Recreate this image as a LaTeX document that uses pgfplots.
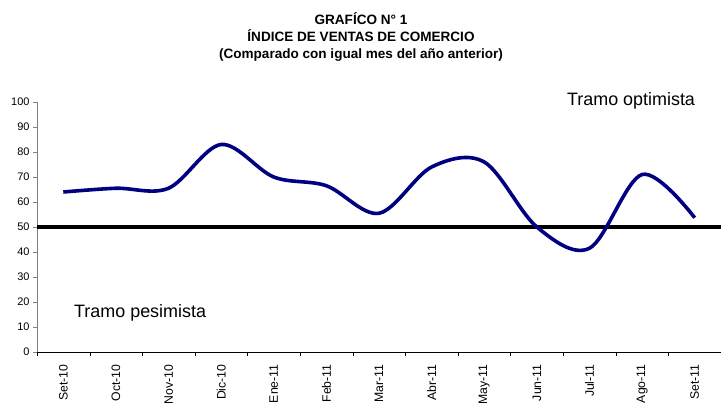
\documentclass[border=0pt]{standalone}
\usepackage{fontspec}
\setmainfont{Liberation Sans}
\usepackage{pgfplots}
\pgfplotsset{compat=1.18}
\definecolor{navyline}{RGB}{0,0,128}
\begin{document}
\begin{tikzpicture}[x=1bp,y=1bp]
\path[use as bounding box] (0,0) rectangle (721,405);
\node[align=center,font=\fontsize{13.6}{16.7}\selectfont\bfseries] at (361,368)
  {GRAFÍCO N° 1\\ÍNDICE DE VENTAS DE COMERCIO\\(Comparado con igual mes del año anterior)};
\begin{axis}[
  at={(37bp,53bp)}, anchor=south west,
  scale only axis, width=684bp, height=250bp,
  xmin=-0.5, xmax=12.5, ymin=0, ymax=100,
  axis lines*=left,
  axis line style={black},
  y axis line style={gray},
  clip=false,
  xtick={0,...,12},
  xticklabels={Set-10,Oct-10,Nov-10,Dic-10,Ene-11,Feb-11,Mar-11,Abr-11,May-11,Jun-11,Jul-11,Ago-11,Set-11},
  major x tick style={draw=none},
  minor xtick={-0.5,0.5,...,12.5},
  minor x tick style={black},
  minor tick length=4bp,
  x tick label style={rotate=90, anchor=east, font=\fontsize{12.3}{13}\selectfont, xshift=-5bp},
  ytick={0,10,...,100},
  y tick label style={font=\fontsize{11}{12}\selectfont},
  major tick length=4bp,
  y tick style={gray},
  tick align=outside,
  /pgf/number format/assume math mode=true,
]
\addplot[black, line width=4bp] coordinates {(-0.5,50) (12.5,50)};
\addplot[navyline, line width=3.6bp, smooth, tension=0.55] coordinates {
  (0,64) (1,65.5) (2,65.5) (3,83) (4,70) (5,66.5) (6,55.5)
  (7,74) (8,76) (9,50) (10,41.5) (11,71) (12,53.7)
};
\node[font=\fontsize{18}{20}\selectfont] at (axis cs:10.79,100.4) {Tramo optimista};
\node[font=\fontsize{18}{20}\selectfont] at (axis cs:1.46,15.6) {Tramo pesimista};
\end{axis}
\end{tikzpicture}
\end{document}
